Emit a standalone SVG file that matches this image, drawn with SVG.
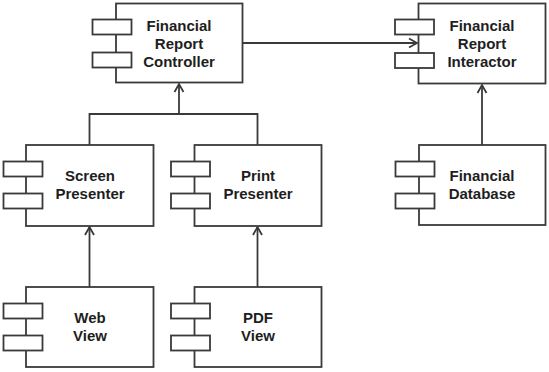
<svg xmlns="http://www.w3.org/2000/svg" width="549" height="372" viewBox="0 0 549 372">
<style>
.box{fill:#fff;stroke:#3a3a3a;stroke-width:1.8}
.port{fill:#fff;stroke:#3a3a3a;stroke-width:1.8}
.lbl{font-family:"Liberation Sans",Arial,Helvetica,sans-serif;font-weight:bold;font-size:15px;fill:#1e1e1e;text-anchor:middle}
.conn{fill:none;stroke:#3a3a3a;stroke-width:1.8}
</style>
<defs>
<marker id="arr" markerUnits="userSpaceOnUse" markerWidth="14" markerHeight="14" viewBox="-12 -7 14 14" refX="0" refY="0" orient="auto">
<polyline points="-8,-4.5 0,0 -8,4.5" fill="none" stroke="#3a3a3a" stroke-width="1.8"/>
</marker>
</defs>
<rect width="549" height="372" fill="#fff"/>
<g id="connectors">
<path class="conn" d="M242.5 43 H417" marker-end="url(#arr)"/>
<path class="conn" d="M89.5 145 V114 H257.5 V145"/>
<path class="conn" d="M179 114 V84" marker-end="url(#arr)"/>
<path class="conn" d="M89.5 287 V227" marker-end="url(#arr)"/>
<path class="conn" d="M257.5 287 V227" marker-end="url(#arr)"/>
<path class="conn" d="M482 145 V85" marker-end="url(#arr)"/>
</g>
<g id="financial-report-controller">
<rect class="box" x="116" y="3.5" width="126.5" height="79"/>
<rect class="port" x="92.5" y="19.5" width="39" height="15"/>
<rect class="port" x="92.5" y="52.5" width="39" height="15"/>
<text class="lbl" x="179" y="30.5">Financial</text>
<text class="lbl" x="179" y="48.5">Report</text>
<text class="lbl" x="179" y="66.5">Controller</text>
</g>
<g id="financial-report-interactor">
<rect class="box" x="418.5" y="3.5" width="127" height="80"/>
<rect class="port" x="395" y="19.5" width="39" height="15"/>
<rect class="port" x="395" y="53" width="39" height="15"/>
<text class="lbl" x="482" y="30.5">Financial</text>
<text class="lbl" x="482" y="48.5">Report</text>
<text class="lbl" x="482" y="66.5">Interactor</text>
</g>
<g id="screen-presenter">
<rect class="box" x="26" y="145" width="127.5" height="81"/>
<rect class="port" x="3.5" y="161.5" width="39" height="15"/>
<rect class="port" x="3.5" y="193.5" width="39" height="15"/>
<text class="lbl" x="90" y="180.5">Screen</text>
<text class="lbl" x="90" y="198.5">Presenter</text>
</g>
<g id="print-presenter">
<rect class="box" x="194.5" y="145" width="127" height="81"/>
<rect class="port" x="171" y="161.5" width="39" height="15"/>
<rect class="port" x="171" y="193.5" width="39" height="15"/>
<text class="lbl" x="258" y="180.5">Print</text>
<text class="lbl" x="258" y="198.5">Presenter</text>
</g>
<g id="financial-database">
<rect class="box" x="419" y="145" width="126.5" height="80"/>
<rect class="port" x="395.5" y="161.5" width="39" height="15"/>
<rect class="port" x="395.5" y="193.5" width="39" height="15"/>
<text class="lbl" x="482" y="180.5">Financial</text>
<text class="lbl" x="482" y="198.5">Database</text>
</g>
<g id="web-view">
<rect class="box" x="26" y="287" width="127.5" height="80"/>
<rect class="port" x="3.5" y="303.5" width="39" height="15"/>
<rect class="port" x="3.5" y="335.5" width="39" height="15"/>
<text class="lbl" x="90" y="322.5">Web</text>
<text class="lbl" x="90" y="340.5">View</text>
</g>
<g id="pdf-view">
<rect class="box" x="194.5" y="287" width="127" height="80"/>
<rect class="port" x="171" y="303.5" width="39" height="15"/>
<rect class="port" x="171" y="335.5" width="39" height="15"/>
<text class="lbl" x="258" y="322.5">PDF</text>
<text class="lbl" x="258" y="340.5">View</text>
</g>
</svg>
